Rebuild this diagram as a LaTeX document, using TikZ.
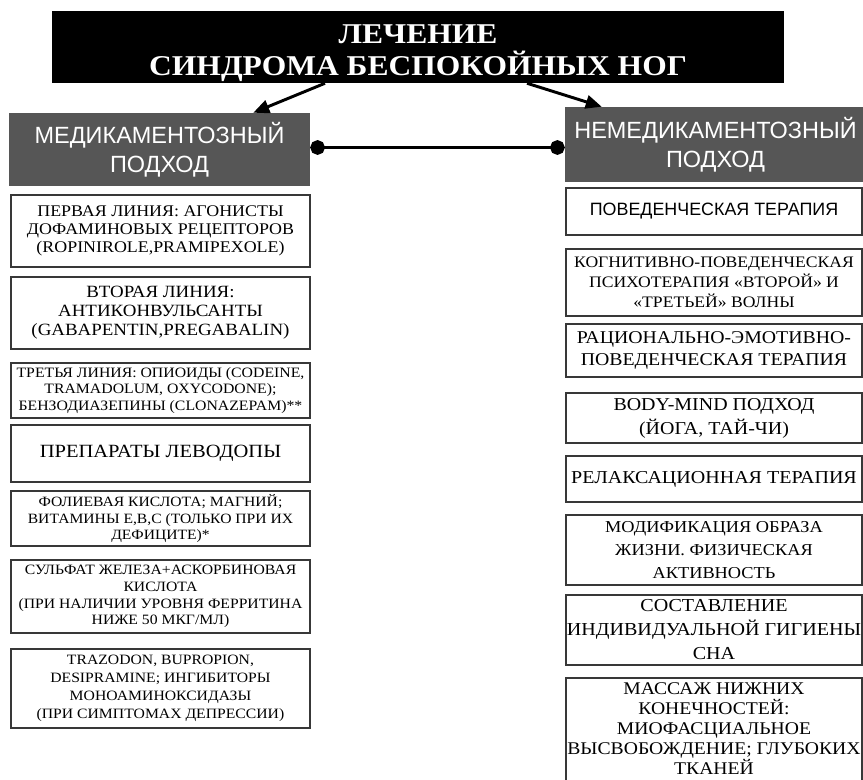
\documentclass[tikz,border=0pt]{standalone}
\usepackage{fontspec}
\setmainfont{Liberation Serif}[FakeStretch=1.1]
\setsansfont{Liberation Sans}
\usepackage{tikz}
\usetikzlibrary{arrows.meta}
\definecolor{headgray}{HTML}{565656}
\definecolor{edgegray}{HTML}{383838}
\newcommand{\fs}[2]{\fontsize{#1}{#2}\selectfont}

\begin{document}
\begin{tikzpicture}[x=0.75pt,y=-0.75pt,
    titlebox/.style={fill=black,inner sep=0pt},
    titletext/.style={text=white,align=center,inner sep=0pt,font=\bfseries\fs{21.5}{24.4}},
    headbox/.style={fill=headgray,text=white,align=center,inner sep=0pt,minimum width=225.75pt,font=\sffamily\fs{17.6}{22}},
    leftitem/.style={draw=edgegray,line width=1pt,align=center,inner sep=0pt,minimum width=224.25pt},
    rightitem/.style={draw=edgegray,line width=1pt,align=center,inner sep=0pt,minimum width=222pt},
    headarrow/.style={line width=2.2pt,-{Triangle[length=12pt,width=10pt]}},
    linkline/.style={line width=2.6pt,{Circle[length=11pt]}-{Circle[length=11pt]}}]
                            \useasboundingbox (0,0) rectangle (863,780);
                            \node[titlebox, minimum width=549pt, minimum height=54pt] (title) at (418,47) {};
                            \node[titletext] (titletext) at (418,53) {ЛЕЧЕНИЕ\\СИНДРОМА БЕСПОКОЙНЫХ НОГ};
                            \node[headbox, minimum height=54.75pt] (medhead) at (159.5,149.5) {МЕДИКАМЕНТОЗНЫЙ\\ПОДХОД};
                            \node[headbox, minimum height=56.25pt] (nonmedhead) at (715.5,144.5) {НЕМЕДИКАМЕНТОЗНЫЙ\\ПОДХОД};
                            \draw[headarrow] ([xshift=-69.75pt]title.south) -- ([xshift=-42.75pt]medhead.north east);
                            \draw[headarrow] ([xshift=81.75pt]title.south) -- ([xshift=27.75pt]nonmedhead.north west);
                            \coordinate (link) at (0,147.5);
                            \draw[linkline] (medhead.east |- link) -- (nonmedhead.west |- link);

                            \node[leftitem, minimum height=54pt, font=\fs{12.2}{13.7}] (firstline) at (160.5,231) {ПЕРВАЯ ЛИНИЯ: АГОНИСТЫ\\ДОФАМИНОВЫХ РЕЦЕПТОРОВ\\(ROPINIROLE,PRAMIPEXOLE)};
                            \node[leftitem, minimum height=54pt, font=\fs{12.9}{14.2}] (secondline) at (160.5,313) {ВТОРАЯ ЛИНИЯ:\\АНТИКОНВУЛЬСАНТЫ\\(GABAPENTIN,PREGABALIN)};
                            \node[leftitem, minimum height=41.25pt, font=\fs{10.75}{12.5}] (thirdline) at (160.5,390.5) {ТРЕТЬЯ ЛИНИЯ: ОПИОИДЫ (CODEINE,\\TRAMADOLUM, OXYCODONE);\\БЕНЗОДИАЗЕПИНЫ (CLONAZEPAM)**};
                            \node[leftitem, minimum height=42.75pt, font=\fs{14}{15}] (levodopa) at (160.5,453.5) {ПРЕПАРАТЫ ЛЕВОДОПЫ};
                            \node[leftitem, minimum height=41.25pt, font=\fs{10.65}{12.6}] (folate) at (160.5,518.5) {ФОЛИЕВАЯ КИСЛОТА; МАГНИЙ;\\ВИТАМИНЫ Е,В,С (ТОЛЬКО ПРИ ИХ\\ДЕФИЦИТЕ)*};
                            \node[leftitem, minimum height=54.75pt, font=\fs{10.7}{12.6}] (iron) at (160.5,596.5) {СУЛЬФАТ ЖЕЛЕЗА+АСКОРБИНОВАЯ\\КИСЛОТА\\(ПРИ НАЛИЧИИ УРОВНЯ ФЕРРИТИНА\\НИЖЕ 50 МКГ/МЛ)};
                            \node[leftitem, minimum height=59.25pt, font=\fs{10.7}{13.5}] (antidep) at (160.5,688.5) {TRAZODON, BUPROPION,\\DESIPRAMINE; ИНГИБИТОРЫ\\МОНОАМИНОКСИДАЗЫ\\(ПРИ СИМПТОМАХ ДЕПРЕССИИ)};

                            \node[rightitem, minimum height=35.25pt, font=\sffamily\fs{13.4}{15}] (behav) at (714,211.5) {ПОВЕДЕНЧЕСКАЯ ТЕРАПИЯ};
                            \node[rightitem, minimum height=50.25pt, font=\fs{12}{15}] (cbt) at (714,282.5) {КОГНИТИВНО-ПОВЕДЕНЧЕСКАЯ\\ПСИХОТЕРАПИЯ «ВТОРОЙ» И\\«ТРЕТЬЕЙ» ВОЛНЫ};
                            \node[rightitem, minimum height=39.75pt, font=\fs{13.5}{17}] (rebt) at (714,350.5) {РАЦИОНАЛЬНО-ЭМОТИВНО-\\ПОВЕДЕНЧЕСКАЯ ТЕРАПИЯ};
                            \node[rightitem, minimum height=37.5pt, font=\fs{13.6}{18}] (bodymind) at (714,418) {BODY-MIND ПОДХОД\\(ЙОГА, ТАЙ-ЧИ)};
                            \node[rightitem, minimum height=34.5pt, font=\fs{13.65}{15}] (relax) at (714,479) {РЕЛАКСАЦИОННАЯ ТЕРАПИЯ};
                            \node[rightitem, minimum height=52.5pt, font=\fs{12.5}{17.5}] (lifestyle) at (714,550) {МОДИФИКАЦИЯ ОБРАЗА\\ЖИЗНИ. ФИЗИЧЕСКАЯ\\АКТИВНОСТЬ};
                            \node[rightitem, minimum height=52.5pt, font=\fs{13.7}{18}] (hygiene) at (714,630) {СОСТАВЛЕНИЕ\\ИНДИВИДУАЛЬНОЙ ГИГИЕНЫ\\СНА};
                            \node[rightitem, minimum height=79.5pt, text depth=3.5pt, font=\fs{13.4}{15}] (massage) at (714,731) {МАССАЖ НИЖНИХ\\КОНЕЧНОСТЕЙ:\\МИОФАСЦИАЛЬНОЕ\\ВЫСВОБОЖДЕНИЕ; ГЛУБОКИХ\\ТКАНЕЙ};
                        \end{tikzpicture}
\end{document}
